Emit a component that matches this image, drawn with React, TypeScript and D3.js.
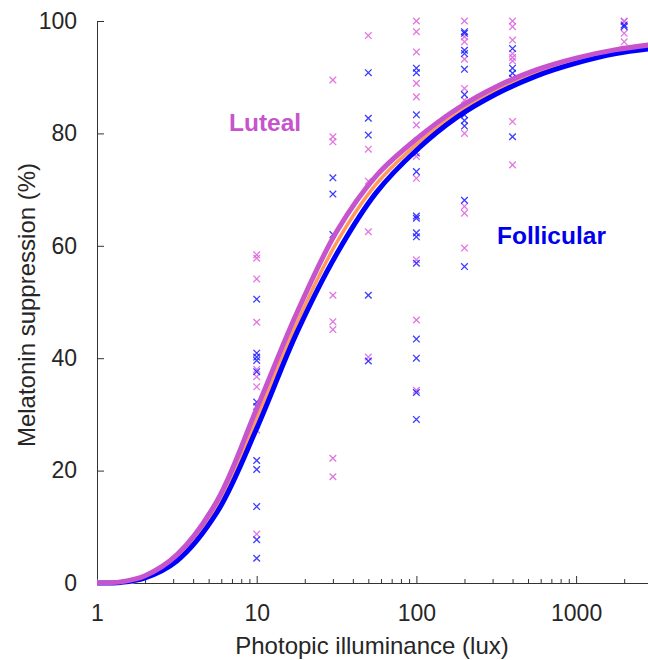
import React, { useEffect, useRef } from "react";
import * as d3 from "d3";

// scatter: [lux, suppression %]
const follicularPts: [number, number][] = [
  [10, 50.5], [10, 40.9], [10, 40.2], [10, 39.6], [10, 37.6], [10, 32.2], [10, 31.4],
  [10, 21.8], [10, 20.2], [10, 13.6], [10, 7.7], [10, 4.4],
  [30, 72.1], [30, 69.2], [30, 62.0], [30, 59.4],
  [50, 90.8], [50, 82.7], [50, 79.7], [50, 51.2], [50, 39.5],
  [100, 91.6], [100, 90.8], [100, 83.3], [100, 76.5], [100, 73.2], [100, 65.3], [100, 64.9],
  [100, 62.3], [100, 61.6], [100, 56.9], [100, 43.4], [100, 40.0], [100, 33.9], [100, 29.1],
  [200, 98.1], [200, 97.8], [200, 94.8], [200, 94.2], [200, 91.4], [200, 86.9], [200, 84.5],
  [200, 83.3], [200, 82.3], [200, 81.3], [200, 68.1], [200, 56.3],
  [400, 95.1], [400, 91.6], [400, 90.7], [400, 89.8], [400, 79.4],
  [2000, 99.3], [2000, 99.0],
];

const lutealPts: [number, number][] = [
  [10, 58.4], [10, 57.8], [10, 54.1], [10, 46.4], [10, 38.0], [10, 36.7], [10, 34.9],
  [10, 27.2], [10, 8.7],
  [30, 89.5], [30, 79.4], [30, 78.5], [30, 51.2], [30, 46.5], [30, 45.1], [30, 22.2], [30, 18.9],
  [50, 97.4], [50, 77.2], [50, 71.5], [50, 62.5], [50, 40.2],
  [100, 100], [100, 98.1], [100, 94.5], [100, 88.9], [100, 86.5], [100, 81.5], [100, 75.9],
  [100, 72.0], [100, 57.5], [100, 46.8], [100, 34.3],
  [200, 100], [200, 97.2], [200, 96.3], [200, 93.2], [200, 88.0], [200, 85.9], [200, 80.0],
  [200, 67.0], [200, 65.8], [200, 59.6],
  [400, 100], [400, 99.0], [400, 96.6], [400, 94.2], [400, 93.5], [400, 92.9], [400, 82.1], [400, 74.4],
  [2000, 100], [2000, 99.9], [2000, 97.8], [2000, 96.3],
];

// fitted curves at quarter-decade steps
const fitLux = [1, 1.41, 2, 3.16, 5.62, 10, 17.8, 31.6, 56.2, 100, 178, 316, 562, 1000, 1778, 3000];
const lutealFit = [0, 0.2, 1.3, 5.0, 14.5, 31, 48, 62.5, 72.5, 79, 84.3, 88.3, 91.3, 93.4, 94.9, 95.8];
const pooledFit = [0, 0.15, 1.1, 4.45, 13.5, 29.2, 46.2, 60.5, 71, 78, 83.5, 87.6, 90.7, 92.9, 94.5, 95.4];
const follicularFit = [0, 0.1, 0.9, 3.9, 12.5, 27.5, 44.5, 58.5, 69.5, 77, 82.8, 87, 90.2, 92.5, 94.2, 95.1];

const xMajor = [1, 10, 100, 1000];
const yTicks = [0, 20, 40, 60, 80, 100];

const App = () => {
  const ref = useRef<SVGSVGElement>(null);

  useEffect(() => {
    const svg = d3.select(ref.current);
    svg.selectAll("*").remove();
    const font = "'Liberation Sans', Arial, sans-serif";

    const x = d3.scaleLog().domain([1, 3000]).range([97, 97 + Math.log10(3000) * 159.7]);
    const y = d3.scaleLinear().domain([0, 100]).range([583, 21]);

    const minor: number[] = [];
    [1, 10, 100, 1000].forEach((d) => {
      for (let k = 2; k <= 9; k++) if (d * k <= 3000) minor.push(d * k);
    });

    // minor x ticks
    svg.append("g")
      .attr("transform", "translate(0,583)")
      .call(d3.axisBottom(x).tickValues(minor).tickSize(-4).tickFormat(() => ""))
      .call((g) => g.select(".domain").remove())
      .call((g) => g.selectAll("line").attr("stroke", "#333"));

    const gx = svg.append("g")
      .attr("transform", "translate(0,583)")
      .call(d3.axisBottom(x).tickValues(xMajor).tickSize(-7).tickSizeOuter(0).tickPadding(22)
        .tickFormat((d) => String(d)));
    gx.select(".domain").attr("stroke", "#333");
    gx.selectAll("line").attr("stroke", "#333");
    gx.selectAll("text").attr("font-family", font).attr("font-size", 23).attr("fill", "#262626");

    const gy = svg.append("g")
      .attr("transform", "translate(97,0)")
      .call(d3.axisLeft(y).tickValues(yTicks).tickSize(-7).tickSizeOuter(0).tickPadding(20));
    gy.select(".domain").attr("stroke", "#333");
    gy.selectAll("line").attr("stroke", "#333");
    gy.selectAll("text").attr("font-family", font).attr("font-size", 23).attr("fill", "#262626");

    const cross = "M-3.3,-3.3L3.3,3.3M-3.3,3.3L3.3,-3.3";
    svg.append("g").selectAll("path")
      .data(lutealPts).join("path")
      .attr("d", cross)
      .attr("transform", (d) => `translate(${x(d[0])},${y(d[1])})`)
      .attr("stroke", "#dd5fdd").attr("stroke-opacity", 0.85).attr("stroke-width", 1.3).attr("fill", "none");
    svg.append("g").selectAll("path")
      .data(follicularPts).join("path")
      .attr("d", cross)
      .attr("transform", (d) => `translate(${x(d[0])},${y(d[1])})`)
      .attr("stroke", "#1a1aff").attr("stroke-opacity", 0.85).attr("stroke-width", 1.3).attr("fill", "none");

    const line = d3.line<number>()
      .x((_, i) => x(fitLux[i])).y((d) => y(d))
      .curve(d3.curveCatmullRom.alpha(0.5));

    const curves = svg.append("g").attr("fill", "none").attr("stroke-linecap", "butt");
    curves.append("path").attr("d", line(pooledFit)).attr("stroke", "#fff").attr("stroke-width", 6.5);
    curves.append("path").attr("d", line(pooledFit)).attr("stroke", "#ff9a5c").attr("stroke-width", 3.5);
    curves.append("path").attr("d", line(follicularFit)).attr("stroke", "#0000ff").attr("stroke-width", 5);
    curves.append("path").attr("d", line(lutealFit)).attr("stroke", "#c654cc").attr("stroke-width", 5);

    svg.append("text").attr("x", 229).attr("y", 131).text("Luteal")
      .attr("font-family", font).attr("font-size", 24.5).attr("font-weight", "bold").attr("fill", "#c654cc");
    svg.append("text").attr("x", 497).attr("y", 244).text("Follicular")
      .attr("font-family", font).attr("font-size", 24.5).attr("font-weight", "bold").attr("fill", "#0000ee");

    svg.append("text").attr("x", 372).attr("y", 654).attr("text-anchor", "middle")
      .text("Photopic illuminance (lux)")
      .attr("font-family", font).attr("font-size", 24).attr("fill", "#262626");
    svg.append("text")
      .attr("transform", "translate(35,305) rotate(-90)").attr("text-anchor", "middle")
      .text("Melatonin suppression (%)")
      .attr("font-family", font).attr("font-size", 24).attr("fill", "#262626");
  }, []);

  return (
    <div>
      <style>{`body{margin:0}`}</style>
      <svg ref={ref} width={648} height={660} style={{ display: "block", background: "#fff" }}></svg>
    </div>
  );
};

export default App;
